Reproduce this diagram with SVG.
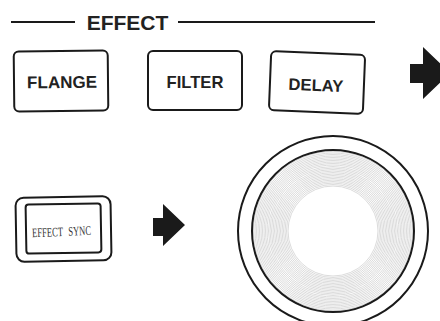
<svg xmlns="http://www.w3.org/2000/svg" width="440" height="321" viewBox="0 0 440 321">
<style>
.btn{fill:#fff;stroke:#1a1a1a;stroke-width:2}
.lbl{font-family:"Liberation Sans",Arial,sans-serif;font-weight:bold;fill:#222;text-anchor:middle}
.ring{fill:none;stroke:#cccccc;stroke-width:0.7}
.edge{fill:none;stroke:#1a1a1a;stroke-width:2}
.arrow{fill:#1a1a1a}
</style>
<rect width="440" height="321" fill="#fff"/>
<g id="header">
<line x1="11" y1="22" x2="75" y2="22" stroke="#1a1a1a" stroke-width="2"/>
<line x1="178" y1="22" x2="375" y2="22" stroke="#1a1a1a" stroke-width="2"/>
<text x="127.5" y="30" class="lbl" font-size="21">EFFECT</text>
</g>
<g id="flange" transform="rotate(-0.6 61 81)">
<rect x="14" y="51" width="94" height="60" rx="5" class="btn"/>
<text x="62" y="88" class="lbl" font-size="17">FLANGE</text>
</g>
<g id="filter">
<rect x="148" y="51" width="94" height="59" rx="5" class="btn"/>
<text x="195" y="88" class="lbl" font-size="16.6">FILTER</text>
</g>
<g id="delay" transform="rotate(2.3 317 83)">
<rect x="270" y="53" width="94" height="59" rx="5" class="btn"/>
<text x="316" y="91" class="lbl" font-size="16.6">DELAY</text>
</g>
<g id="effect-sync" transform="rotate(-1 63 229)">
<rect x="16" y="197" width="95" height="64" rx="8" class="btn"/>
<rect x="26" y="204" width="75" height="49" rx="3" class="btn"/>
<text x="32" y="236" transform="rotate(-1.5 62 232)" font-family="'Liberation Serif','Times New Roman',serif" font-size="13" word-spacing="5" textLength="59" lengthAdjust="spacingAndGlyphs" fill="#333">EFFECT SYNC</text>
</g>
<g id="connectors">
<polygon class="arrow" points="410,64 423,64 423,47 450,73 423,99 423,83 410,83"/>
<polygon class="arrow" points="153,218 163,218 163,204 185,225 163,246 163,236 153,236"/>
</g>
<g id="knob">
<circle cx="333" cy="231" r="95" class="edge"/>
<g>
<circle cx="333" cy="231" r="45" class="ring"/>
<circle cx="333" cy="231" r="46.5" class="ring"/>
<circle cx="333" cy="231" r="48" class="ring"/>
<circle cx="333" cy="231" r="49.5" class="ring"/>
<circle cx="333" cy="231" r="51" class="ring"/>
<circle cx="333" cy="231" r="52.5" class="ring"/>
<circle cx="333" cy="231" r="54" class="ring"/>
<circle cx="333" cy="231" r="55.5" class="ring"/>
<circle cx="333" cy="231" r="57" class="ring"/>
<circle cx="333" cy="231" r="58.5" class="ring"/>
<circle cx="333" cy="231" r="60" class="ring"/>
<circle cx="333" cy="231" r="61.5" class="ring"/>
<circle cx="333" cy="231" r="63" class="ring"/>
<circle cx="333" cy="231" r="64.5" class="ring"/>
<circle cx="333" cy="231" r="66" class="ring"/>
<circle cx="333" cy="231" r="67.5" class="ring"/>
<circle cx="333" cy="231" r="69" class="ring"/>
<circle cx="333" cy="231" r="70.5" class="ring"/>
<circle cx="333" cy="231" r="72" class="ring"/>
<circle cx="333" cy="231" r="73.5" class="ring"/>
<circle cx="333" cy="231" r="75" class="ring"/>
<circle cx="333" cy="231" r="76.5" class="ring"/>
<circle cx="333" cy="231" r="78" class="ring"/>
<circle cx="333" cy="231" r="79.5" class="ring"/>
</g>
<circle cx="333" cy="231" r="81" class="edge"/>
</g>
</svg>
